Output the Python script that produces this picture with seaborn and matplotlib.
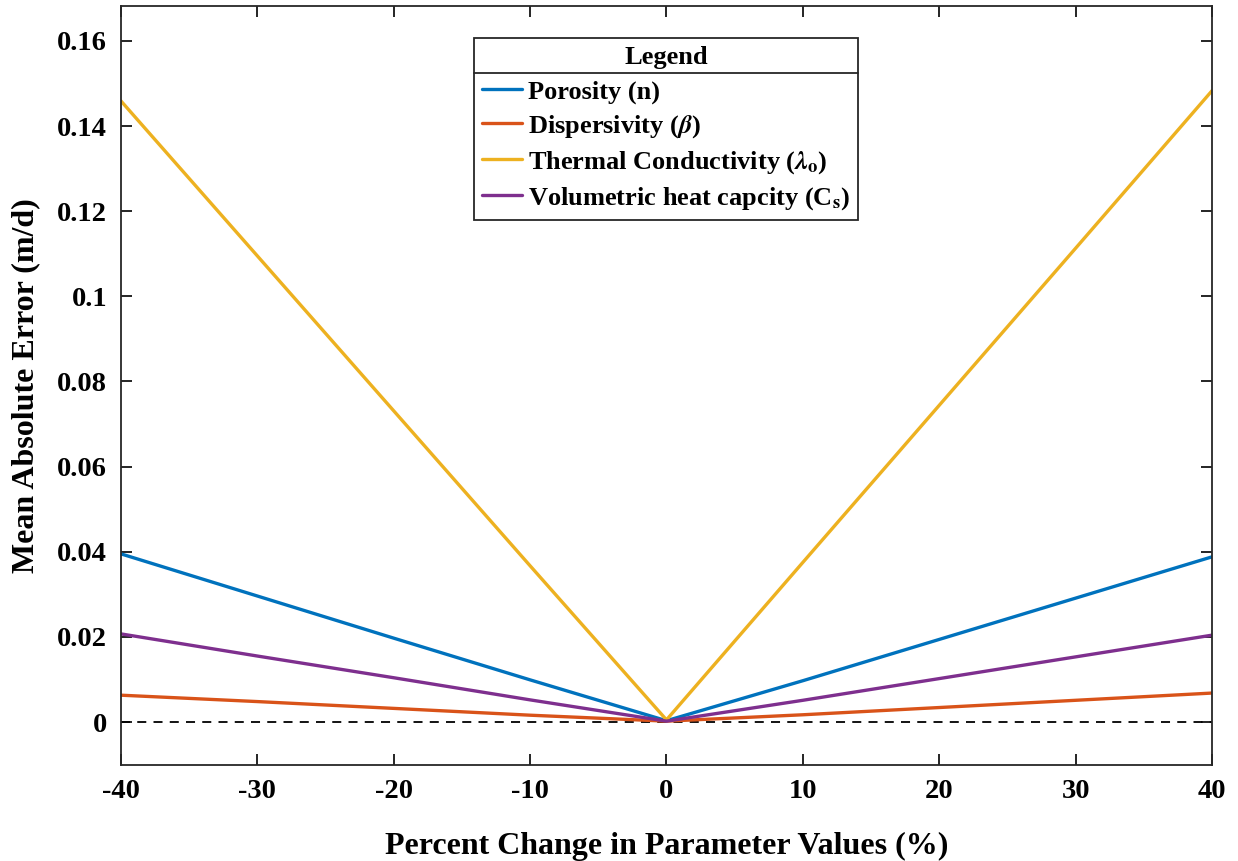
import numpy as np
import pandas as pd
import seaborn as sns
import matplotlib.pyplot as plt
from matplotlib.ticker import FuncFormatter
from matplotlib.lines import Line2D

# values
pct_change = [-40, -30, -20, -10, 0, 10, 20, 30, 40]
porosity = [0.0395, 0.0296, 0.0197, 0.0099, 0.0003, 0.0097, 0.0194, 0.0291, 0.0388]
dispersivity = [0.0063, 0.0048, 0.0032, 0.0016, 0.0002, 0.0017, 0.0034, 0.0051, 0.0068]
thermal_cond = [0.1459, 0.1095, 0.0731, 0.0367, 0.0005, 0.0375, 0.0744, 0.1113, 0.1483]
vol_heat = [0.0207, 0.0155, 0.0104, 0.0052, 0.0002, 0.0051, 0.0102, 0.0153, 0.0204]

labels = ['Porosity (n)',
          r'Dispersivity ($\beta$)',
          r'Thermal Conductivity ($\lambda_{\mathbf{o}}$)',
          r'Volumetric heat capcity (C$_{\mathbf{s}}$)']
colors = ['#0072BD', '#D95319', '#EDB120', '#7E2F8E']

df = pd.DataFrame({'pct': pct_change * 4,
                   'mae': porosity + dispersivity + thermal_cond + vol_heat,
                   'param': sum([[l] * len(pct_change) for l in labels], [])})

sns.set_style('ticks')
plt.rcParams['font.family'] = ['Liberation Serif', 'DejaVu Serif']
plt.rcParams['font.weight'] = 'bold'
plt.rcParams['mathtext.fontset'] = 'stix'
plt.rcParams['axes.unicode_minus'] = False
plt.rcParams['text.color'] = 'black'
plt.rcParams['axes.labelcolor'] = 'black'
plt.rcParams['xtick.color'] = 'black'
plt.rcParams['ytick.color'] = 'black'

fig = plt.figure(figsize=(12.38, 8.61), dpi=100)
ax = fig.add_axes([0.0977, 0.1115, 0.8813, 0.8815])

sns.lineplot(data=df, x='pct', y='mae', hue='param', palette=colors,
             linewidth=2.4, ax=ax, legend=True)
ax.axhline(0, color='black', linestyle='--', linewidth=1.3, dashes=(5, 4), zorder=1)

ax.set_xlim(-40, 40)
ax.set_ylim(-0.0101, 0.1682)
ax.set_xticks(range(-40, 41, 10))
ax.set_yticks(np.arange(0, 0.161, 0.02))
ax.yaxis.set_major_formatter(FuncFormatter(lambda v, p: '%g' % round(v, 2)))
ax.tick_params(direction='in', top=True, right=True, length=8, width=1.2,
               labelsize=20.5, pad=10)
for s in ax.spines.values():
    s.set_linewidth(1.3)
    s.set_color('#262626')

ax.set_xlabel('Percent Change in Parameter Values (%)', fontsize=23,
              fontweight='bold', labelpad=20)
ax.set_ylabel('Mean Absolute Error (m/d)', fontsize=23, fontweight='bold',
              labelpad=12)

handles, _ = ax.get_legend_handles_labels()
leg = ax.legend(handles, labels, title='Legend', loc='upper left',
                bbox_to_anchor=(0.3236, 0.958), fontsize=19,
                title_fontproperties={'weight': 'bold', 'size': 19},
                frameon=True, fancybox=False, edgecolor='#262626',
                framealpha=1, handlelength=1.5, handletextpad=0.25,
                borderpad=0.3, labelspacing=0.35, borderaxespad=0)
leg.get_frame().set_linewidth(1.3)
leg._legend_box.sep = 8
for h in leg.get_lines():
    h.set_linewidth(2.4)

# separator under the legend title
fig.canvas.draw()
inv = fig.transFigure.inverted()
fb = leg.get_frame().get_window_extent()
tb = leg.get_title().get_window_extent()
y_sep = tb.y0 - 4
(x0, ys), (x1, _) = inv.transform([(fb.x0, y_sep), (fb.x1, y_sep)])
fig.add_artist(Line2D([x0, x1], [ys, ys], color='#262626', linewidth=1.3))

fig.savefig('out.png', dpi=100)
